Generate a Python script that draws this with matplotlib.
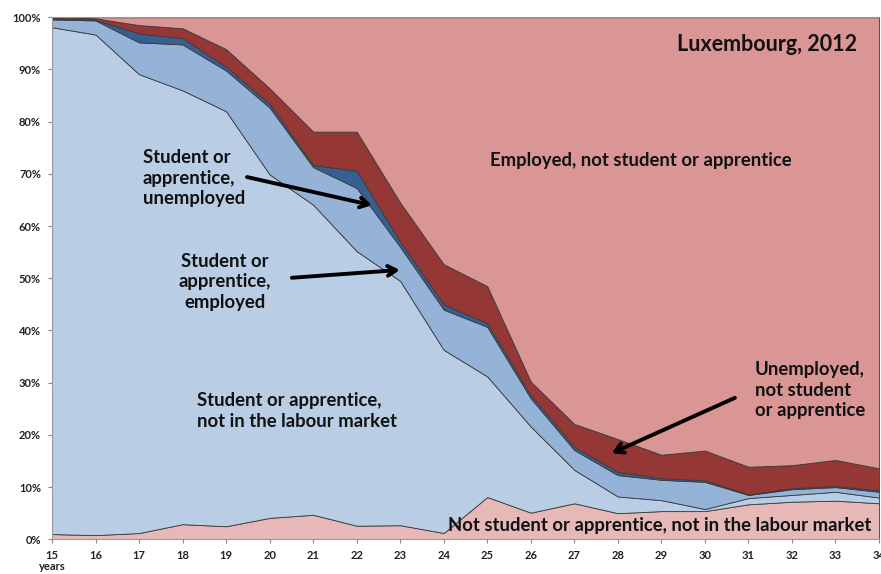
import numpy as np
import matplotlib
matplotlib.use("Agg")
import matplotlib.pyplot as plt
from matplotlib.ticker import PercentFormatter

plt.rcParams['font.family'] = ['Lato', 'DejaVu Sans']

ages = [15, 16, 17, 18, 19, 20, 21, 22, 23, 24, 25, 26, 27, 28, 29, 30, 31, 32, 33, 34]

# shares in % of the age group, stacked bottom to top
not_student_inactive = [1.0, 0.8, 1.2, 2.9, 2.5, 4.1, 4.7, 2.6, 2.7, 1.2, 8.1, 5.1, 6.9, 5.0, 5.4, 5.4, 6.7, 7.2, 7.4, 6.9]
student_inactive = [97.1, 95.9, 87.9, 83.1, 79.5, 65.8, 59.4, 52.6, 46.8, 35.1, 23.1, 16.5, 6.4, 3.2, 2.1, 0.4, 1.2, 1.3, 1.7, 1.1]
student_employed = [1.5, 2.7, 6.1, 8.8, 7.8, 12.8, 7.2, 12.1, 6.5, 7.7, 9.5, 5.4, 3.8, 4.1, 3.9, 5.2, 0.6, 1.1, 0.9, 1.1]
student_unemployed = [0.2, 0.1, 1.7, 1.2, 0.7, 0.7, 0.4, 3.3, 1.0, 1.0, 0.7, 0.6, 0.6, 0.6, 0.3, 0.3, 0.1, 0.2, 0.2, 0.3]
unemployed = [0.2, 0.3, 1.6, 1.9, 3.4, 3.0, 6.4, 7.5, 7.5, 7.7, 7.1, 2.6, 4.4, 6.3, 4.5, 5.7, 5.3, 4.4, 5.0, 4.2]
employed = [0.0, 0.2, 1.5, 2.1, 6.1, 13.6, 21.9, 21.9, 35.5, 47.3, 51.5, 69.8, 77.9, 80.8, 83.8, 83.0, 86.1, 85.8, 84.8, 86.4]

layers = [not_student_inactive, student_inactive, student_employed,
          student_unemployed, unemployed, employed]
colors = ['#E6B9B8', '#B9CDE5', '#95B3D7', '#376092', '#953735', '#D99694']

fig = plt.figure(figsize=(8.81, 5.74), dpi=100)
ax = fig.add_axes([52 / 881, 1 - 539.3 / 574, 827 / 881, (539.3 - 17.3) / 574])

vals = np.array(layers, dtype=float)
vals = vals / vals.sum(axis=0)
ax.stackplot(ages, vals, colors=colors, edgecolor='#3a3a3a', linewidth=0.6)

ax.set_xlim(15, 34)
ax.set_ylim(0, 1)
ax.set_xticks(ages)
ax.set_yticks(np.arange(0, 1.01, 0.1))
ax.yaxis.set_major_formatter(PercentFormatter(1.0, decimals=0))
ax.tick_params(labelsize=8, length=3, width=0.8, color='#888888', labelcolor='#222222', pad=5)
for lab in ax.get_xticklabels() + ax.get_yticklabels():
    lab.set_fontweight('bold')
for s in ['left', 'bottom', 'top']:
    ax.spines[s].set_color('#999999')
    ax.spines[s].set_linewidth(0.8)
ax.spines['right'].set_visible(False)

fig.text(52 / 881, 1 - 561 / 574, 'years', fontsize=8, fontweight='bold',
         color='#222222', ha='center', va='top')

txt = dict(fontsize=13.3, fontweight='bold', color='#111111', linespacing=1.24)
ax.text(33.49, 0.947, 'Luxembourg, 2012', ha='right', va='center',
        fontsize=15.5, fontweight='bold', color='#111111')
ax.text(25.06, 0.725, 'Employed, not student or apprentice', ha='left', va='center', **txt)
ax.text(17.09, 0.692, 'Student or\napprentice,\nunemployed', ha='left', va='center', **txt)
ax.text(18.97, 0.493, 'Student or\napprentice,\nemployed', ha='center', va='center',
        multialignment='center', **txt)
ax.text(18.33, 0.246, 'Student or apprentice,\nnot in the labour market', ha='left', va='center', **txt)
ax.text(31.15, 0.286, 'Unemployed,\nnot student\nor apprentice', ha='left', va='center', **txt)
ax.text(24.10, 0.027, 'Not student or apprentice, not in the labour market', ha='left',
        va='center', **txt)

arrow = dict(arrowstyle='->, head_length=0.6, head_width=0.35', color='black', lw=2.8,
             shrinkA=0, shrinkB=0)
ax.annotate('', xy=(22.35, 0.640), xytext=(19.48, 0.694), arrowprops=arrow)
ax.annotate('', xy=(22.99, 0.516), xytext=(20.51, 0.501), arrowprops=arrow)
ax.annotate('', xy=(27.86, 0.165), xytext=(30.69, 0.271), arrowprops=arrow)

fig.savefig('out.png', dpi=100)
